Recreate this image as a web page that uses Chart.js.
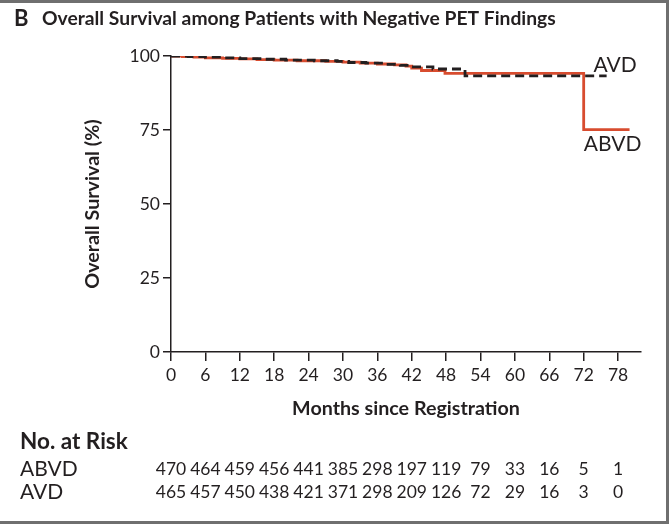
<!DOCTYPE html>
<html>
<head>
<meta charset="utf-8">
<script src="https://cdn.jsdelivr.net/npm/chart.js@4.4.1/dist/chart.umd.min.js"></script>
<style>
  html, body { margin: 0; padding: 0; background: #fff; }
  canvas { display: block; }
</style>
</head>
<body>
<canvas id="c" width="669" height="524"></canvas>
<script>
// Tick positions on the time axis (months) and the numbers at risk under each
const months = [0, 6, 12, 18, 24, 30, 36, 42, 48, 54, 60, 66, 72, 78];
const abvdAtRisk = [470, 464, 459, 456, 441, 385, 298, 197, 119, 79, 33, 16, 5, 1];
const avdAtRisk  = [465, 457, 450, 438, 421, 371, 298, 209, 126, 72, 29, 16, 3, 0];

// Kaplan-Meier estimates: event times (months) and survival (%)
const abvdTime = [0, 2, 4, 6, 9, 12, 15, 18, 22, 27, 30, 33, 36, 39, 41, 42, 43.7, 47.8, 72, 80];
const abvdSurv = [100, 99.8, 99.6, 99.4, 99.2, 99.0, 98.8, 98.6, 98.4, 98.2, 97.9, 97.6, 97.3, 97.0, 96.6, 95.9, 95.1, 94.1, 75.1, 75.1];
const avdTime  = [0, 3, 6, 9, 12, 16, 20, 25, 29, 31, 34, 37, 40, 42, 45.7, 51.3, 76];
const avdSurv  = [100, 99.8, 99.6, 99.4, 99.1, 98.9, 98.6, 98.4, 98.2, 97.8, 97.6, 97.2, 96.8, 96.3, 95.6, 93.3, 93.3];

const yTicks = [0, 25, 50, 75, 100];

const INK = '#231f20';
const RED = '#d84c2f';
const FONT = 'Lato, "Open Sans", sans-serif';

const toPoints = (t, s) => t.map((m, i) => ({ x: m, y: s[i] }));

// Title, curve labels, number-at-risk table and frame
const annotations = {
  id: 'annotations',
  beforeDraw(chart) {
    const ctx = chart.ctx;
    ctx.save();
    ctx.fillStyle = '#fff';
    ctx.fillRect(0, 0, chart.width, chart.height);
    ctx.fillStyle = '#6f6f6f';
    ctx.fillRect(0, 0, chart.width, 3);
    ctx.fillRect(chart.width - 3, 0, 3, chart.height);
    ctx.fillRect(0, chart.height - 3, chart.width, 3);
    ctx.restore();
  },
  afterDraw(chart) {
    const ctx = chart.ctx;
    const x = chart.scales.x, y = chart.scales.y;
    ctx.save();
    ctx.fillStyle = INK;
    ctx.textBaseline = 'middle';

    // Panel letter and title
    ctx.textAlign = 'left';
    ctx.font = `bold 22px ${FONT}`;
    ctx.fillText('B', 14, 19);
    ctx.font = `bold 19.3px ${FONT}`;
    ctx.fillText('Overall Survival among Patients with Negative PET Findings', 42, 19);

    // Curve labels
    ctx.font = `21px ${FONT}`;
    ctx.fillText('AVD', x.getPixelForValue(73.7), y.getPixelForValue(96.8));
    ctx.fillText('ABVD', x.getPixelForValue(72.0), y.getPixelForValue(70.3));

    // Number at risk
    ctx.font = `bold 22.5px ${FONT}`;
    ctx.fillText('No. at Risk', 20, 442);
    ctx.font = `21px ${FONT}`;
    ctx.fillText('ABVD', 20, 469);
    ctx.fillText('AVD', 20, 492);
    ctx.font = `17.5px ${FONT}`;
    ctx.textAlign = 'center';
    months.forEach((m, i) => {
      const px = x.getPixelForValue(m);
      ctx.fillText(String(abvdAtRisk[i]), px, 469);
      ctx.fillText(String(avdAtRisk[i]), px, 492);
    });
    ctx.restore();
  }
};

new Chart(document.getElementById('c'), {
  type: 'line',
  data: {
    datasets: [
      {
        label: 'AVD',
        data: toPoints(avdTime, avdSurv),
        borderColor: INK,
        borderWidth: 2.8,
        borderDash: [9, 5],
        stepped: 'before',
        pointRadius: 0,
        fill: false,
        order: 1
      },
      {
        label: 'ABVD',
        data: toPoints(abvdTime, abvdSurv),
        borderColor: RED,
        borderWidth: 2.8,
        stepped: 'before',
        pointRadius: 0,
        fill: false,
        order: 2
      }
    ]
  },
  options: {
    responsive: false,
    animation: false,
    devicePixelRatio: 1,
    layout: { padding: { top: 56, right: 28, left: 0, bottom: 0 } },
    plugins: {
      legend: { display: false },
      tooltip: { enabled: false },
      title: { display: false }
    },
    scales: {
      x: {
        type: 'linear',
        min: 0,
        max: 82,
        afterBuildTicks: s => { s.ticks = months.map(v => ({ value: v })); },
        afterFit: s => { s.height = 172; },
        grid: { drawOnChartArea: false, drawTicks: true, tickLength: 9, color: INK, lineWidth: 1.5 },
        border: { display: true, color: INK, width: 1.5 },
        ticks: { color: INK, font: { family: FONT, size: 17.5 }, padding: 4, maxRotation: 0, autoSkip: false },
        title: {
          display: true,
          text: 'Months since Registration',
          color: INK,
          font: { family: FONT, size: 19.7, weight: 'bold' },
          padding: { top: 0, bottom: 104 }
        }
      },
      y: {
        type: 'linear',
        min: 0,
        max: 100,
        afterBuildTicks: s => { s.ticks = yTicks.map(v => ({ value: v })); },
        afterFit: s => { s.width = 171; },
        grid: { drawOnChartArea: false, drawTicks: true, tickLength: 8, color: INK, lineWidth: 1.5 },
        border: { display: true, color: INK, width: 1.5 },
        ticks: { color: INK, font: { family: FONT, size: 17.5 }, padding: 3 },
        title: {
          display: true,
          text: 'Overall Survival (%)',
          color: INK,
          font: { family: FONT, size: 19.7, weight: 'bold' },
          padding: { top: 81, bottom: 0 }
        }
      }
    }
  },
  plugins: [annotations]
});
</script>
</body>
</html>
